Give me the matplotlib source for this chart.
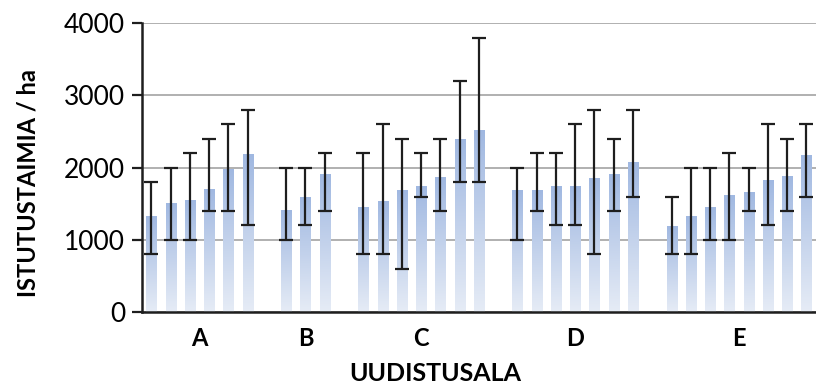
import numpy as np
import matplotlib.pyplot as plt
from matplotlib.colors import LinearSegmentedColormap

# ── Data ──────────────────────────────────────────────────────
groups = ["A", "B", "C", "D", "E"]

a_mean = [1330, 1510, 1550, 1700, 1970, 2180]
a_low = [800, 1000, 1000, 1400, 1400, 1200]
a_high = [1800, 2000, 2200, 2400, 2600, 2800]

b_mean = [1410, 1580, 1900]
b_low = [1000, 1200, 1400]
b_high = [2000, 2000, 2200]

c_mean = [1450, 1530, 1680, 1740, 1870, 2390, 2510]
c_low = [800, 800, 600, 1600, 1400, 1800, 1800]
c_high = [2200, 2600, 2400, 2200, 2400, 3200, 3800]

d_mean = [1680, 1680, 1740, 1740, 1850, 1910, 2070]
d_low = [1000, 1400, 1200, 1200, 800, 1400, 1600]
d_high = [2000, 2200, 2200, 2600, 2800, 2400, 2800]

e_mean = [1190, 1330, 1450, 1620, 1650, 1820, 1880, 2170]
e_low = [800, 800, 1000, 1000, 1400, 1200, 1400, 1600]
e_high = [1600, 2000, 2000, 2200, 2000, 2600, 2400, 2600]

means = [a_mean, b_mean, c_mean, d_mean, e_mean]
lows = [a_low, b_low, c_low, d_low, e_low]
highs = [a_high, b_high, c_high, d_high, e_high]

yticks = [0, 1000, 2000, 3000, 4000]

plt.rcParams["font.family"] = ["Lato", "DejaVu Sans"]

BAR_CMAP = LinearSegmentedColormap.from_list("bar", ["#e6ecf6", "#a0b8e1"])
BAR_W = 0.52

fig = plt.figure(figsize=(8.16, 3.89), dpi=100)
ax = fig.add_axes([0.1737, 0.198, 0.8263, 0.742])

# ── Bars with a vertical gradient + error bars ────────────────
grad = np.linspace(0, 1, 256).reshape(-1, 1)
pos = 0
centers = []
for m, lo, hi in zip(means, lows, highs):
    xs = np.arange(pos, pos + len(m))
    for x, v in zip(xs, m):
        ax.imshow(grad, cmap=BAR_CMAP, origin="lower", aspect="auto",
                  extent=[x - BAR_W / 2, x + BAR_W / 2, 0, v], zorder=2)
    m_arr = np.array(m)
    yerr = [m_arr - np.array(lo), np.array(hi) - m_arr]
    ax.errorbar(xs, m_arr, yerr=yerr, fmt="none", ecolor="#1e1e1e",
                elinewidth=1.6, capsize=5, capthick=1.6, zorder=3)
    centers.append(xs.mean())
    pos += len(m) + 1

ax.set_xlim(-0.5, pos - 1.5)
ax.set_ylim(0, 4000)
ax.set_yticks(yticks)
ax.set_yticklabels([str(t) for t in yticks])
ax.grid(axis="y", color="#b0b0b0", lw=1.4, zorder=0)
ax.set_axisbelow(True)

ax.set_xticks(centers)
ax.set_xticklabels(groups, fontsize=17, fontweight="bold")
ax.tick_params(axis="x", length=0, pad=11)
ax.tick_params(axis="y", labelsize=19, length=7, width=1.6, pad=5,
               color="#1e1e1e")

for side in ["top", "right"]:
    ax.spines[side].set_visible(False)
for side in ["left", "bottom"]:
    ax.spines[side].set_linewidth(1.8)
    ax.spines[side].set_color("#1e1e1e")

fig.text(0.034, 0.53, "ISTUTUSTAIMIA / ha", rotation=90, ha="center",
         va="center", fontsize=17, fontweight="bold")
fig.text(0.534, 0.04, "UUDISTUSALA", ha="center", va="center",
         fontsize=18, fontweight="bold")

fig.savefig("out.png", dpi=100)
